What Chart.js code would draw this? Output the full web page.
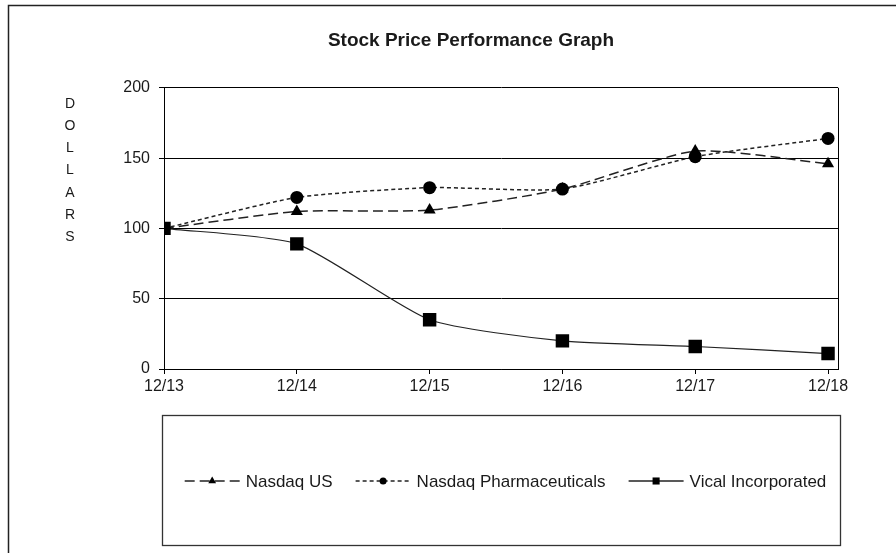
<!DOCTYPE html>
<html>
<head>
<meta charset="utf-8">
<script src="https://cdn.jsdelivr.net/npm/chart.js@4.4.1/dist/chart.umd.min.js"></script>
<style>
  html, body { margin: 0; padding: 0; background: #fff; }
  canvas { display: block; }
</style>
</head>
<body>
<canvas id="chart" width="896" height="553"></canvas>
<script>
const PERIODS     = ['12/13', '12/14', '12/15', '12/16', '12/17', '12/18']
const NASDAQ_US   = [100, 112, 113, 128, 155, 146]
const NASDAQ_PHARMA = [100, 122, 129, 128, 151, 164]
const VICAL       = [100, 89, 35, 20, 16, 11]
const SERIES_NAMES = ['Nasdaq US', 'Nasdaq Pharmaceuticals', 'Vical Incorporated']
const Y_TITLE     = 'DOLLARS'

const FONT = "'Liberation Sans', Arial, sans-serif"
const INK  = '#1a1a1a'

const points = vals => vals.map((v, i) => ({ x: i, y: v }))

// outer frame, plot border, stacked axis title and boxed legend
const decor = {
  id: 'decor',
  beforeDraw(chart) {
    const ctx = chart.ctx
    ctx.save()
    ctx.fillStyle = '#fff'
    ctx.fillRect(0, 0, chart.width, chart.height)
    ctx.strokeStyle = '#222'
    ctx.lineWidth = 1.5
    ctx.beginPath()
    ctx.moveTo(8.5, chart.height)
    ctx.lineTo(8.5, 5.5)
    ctx.lineTo(chart.width, 5.5)
    ctx.stroke()
    ctx.restore()
  },
  beforeDatasetsDraw(chart) {
    const { ctx, chartArea: a } = chart
    ctx.save()
    ctx.strokeStyle = '#000'
    ctx.lineWidth = 1
    ctx.beginPath()
    ctx.moveTo(Math.round(a.right) + 0.5, a.top)
    ctx.lineTo(Math.round(a.right) + 0.5, a.bottom)
    ctx.stroke()
    ctx.restore()
  },
  afterDraw(chart) {
    const ctx = chart.ctx
    ctx.save()

    // vertical "DOLLARS"
    ctx.fillStyle = INK
    ctx.font = `14px ${FONT}`
    ctx.textAlign = 'center'
    ctx.textBaseline = 'middle'
    Y_TITLE.split('').forEach((ch, i) => ctx.fillText(ch, 70, 104 + i * 22.2))

    // legend box
    const box = { left: 162.5, top: 415.5, right: 840.5, bottom: 545.5 }
    ctx.strokeStyle = '#333'
    ctx.lineWidth = 1.3
    ctx.strokeRect(box.left, box.top, box.right - box.left, box.bottom - box.top)

    ctx.font = `17px ${FONT}`
    ctx.textAlign = 'left'
    const sampleLen = 55, textGap = 6, itemGap = 23
    const ds = chart.data.datasets
    const widths = ds.map(d => ctx.measureText(d.label).width)
    const total = widths.reduce((s, w) => s + w + sampleLen + textGap, 0) + itemGap * (ds.length - 1)
    let x = (box.left + box.right) / 2 + 4 - total / 2
    const y = 481
    ds.forEach((d, i) => {
      ctx.strokeStyle = d.borderColor
      ctx.lineWidth = Math.max(d.borderWidth, 1.5)
      ctx.setLineDash(d.borderDash || [])
      ctx.beginPath()
      ctx.moveTo(x, y)
      ctx.lineTo(x + sampleLen, y)
      ctx.stroke()
      ctx.setLineDash([])
      ctx.fillStyle = '#000'
      Chart.helpers.drawPoint(ctx, {
        pointStyle: d.pointStyle, rotation: 0, radius: d.legendRadius, borderWidth: 0
      }, x + sampleLen / 2, y)
      ctx.fillStyle = INK
      ctx.fillText(d.label, x + sampleLen + textGap, y + 1)
      x += sampleLen + textGap + widths[i] + itemGap
    })
    ctx.restore()
  }
}

new Chart(document.getElementById('chart'), {
  type: 'line',
  data: {
    datasets: [
      {
        label: SERIES_NAMES[0], data: points(NASDAQ_US), order: 2,
        borderColor: '#222', borderWidth: 1.5, borderDash: [10, 5],
        pointStyle: 'triangle', pointRadius: 7, legendRadius: 4.5,
        pointBackgroundColor: '#000', pointBorderWidth: 0, tension: 0.2
      },
      {
        label: SERIES_NAMES[1], data: points(NASDAQ_PHARMA), order: 1,
        borderColor: '#222', borderWidth: 1.5, borderDash: [4, 3],
        pointStyle: 'circle', pointRadius: 6.5, legendRadius: 3.5,
        pointBackgroundColor: '#000', pointBorderWidth: 0, tension: 0.2
      },
      {
        label: SERIES_NAMES[2], data: points(VICAL), order: 0,
        borderColor: '#222', borderWidth: 1.2,
        pointStyle: 'rect', pointRadius: 9.5, legendRadius: 5,
        pointBackgroundColor: '#000', pointBorderWidth: 0, tension: 0.2
      }
    ]
  },
  options: {
    responsive: false,
    devicePixelRatio: 1,
    animation: false,
    events: [],
    layout: { padding: { left: 104, right: 58, top: 0, bottom: 150 } },
    plugins: {
      legend: { display: false },
      tooltip: { enabled: false },
      title: {
        display: true,
        text: 'Stock Price Performance Graph',
        color: INK,
        font: { family: FONT, size: 19, weight: 'bold' },
        padding: { top: 29, bottom: 36 }
      }
    },
    scales: {
      x: {
        type: 'linear',
        min: 0,
        max: 5.075,
        afterFit: s => { s.height = 34 },
        border: { color: '#000', width: 1 },
        grid: { drawOnChartArea: false, drawTicks: true, tickLength: 5, color: '#000' },
        ticks: {
          stepSize: 1,
          includeBounds: false,
          autoSkip: false,
          maxRotation: 0,
          padding: 3,
          color: INK,
          font: { family: FONT, size: 16 },
          callback: v => PERIODS[v]
        }
      },
      y: {
        min: 0,
        max: 200,
        afterFit: s => { s.width = 60 },
        border: { color: '#000', width: 1 },
        grid: { color: '#000', lineWidth: 1, tickLength: 5 },
        ticks: {
          stepSize: 50,
          padding: 9,
          color: INK,
          font: { family: FONT, size: 16 }
        }
      }
    }
  },
  plugins: [decor]
})
</script>
</body>
</html>
